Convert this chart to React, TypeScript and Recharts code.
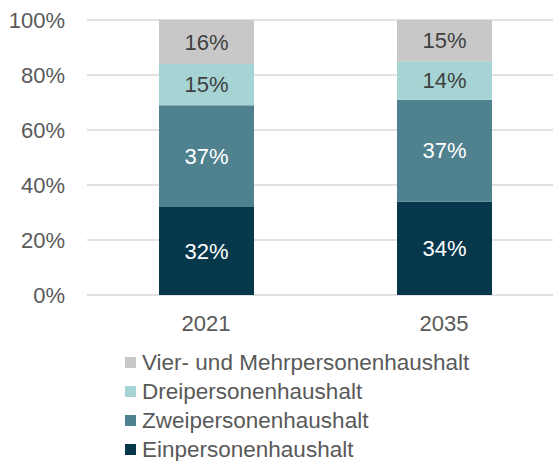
import { BarChart, Bar, XAxis, YAxis, CartesianGrid, LabelList } from 'recharts'

const years = ['2021', '2035']
const einPersonen = [32, 34]
const zweiPersonen = [37, 37]
const dreiPersonen = [15, 14]
const vierUndMehr = [16, 15]
const yTicks = [0, 20, 40, 60, 80, 100]

const FONT = '"Liberation Sans", Arial, sans-serif'

const SERIES = [
  { key: 'ein', name: 'Einpersonenhaushalt', color: '#06374b', label: '#ffffff' },
  { key: 'zwei', name: 'Zweipersonenhaushalt', color: '#50818f', label: '#ffffff' },
  { key: 'drei', name: 'Dreipersonenhaushalt', color: '#a6d4d5', label: '#404040' },
  { key: 'vier', name: 'Vier- und Mehrpersonenhaushalt', color: '#c8c8c8', label: '#404040' },
]

const data = years.map((year, i) => ({
  year,
  ein: einPersonen[i],
  zwei: zweiPersonen[i],
  drei: dreiPersonen[i],
  vier: vierUndMehr[i],
}))

const pct = (v: number) => `${v}%`

export default function App() {
  return (
    <div
      style={{
        position: 'absolute',
        left: 0,
        top: 0,
        width: 553,
        height: 461,
        overflow: 'hidden',
        background: '#fff',
        fontFamily: FONT,
      }}
    >
      <BarChart
        width={580}
        height={340}
        data={data}
        margin={{ top: 20, right: 17, left: 0, bottom: 0 }}
        barSize={95}
      >
        <CartesianGrid vertical={false} stroke="#d9d9d9" strokeWidth={1.5} />
        <XAxis
          dataKey="year"
          height={45}
          axisLine={false}
          tickLine={false}
          tickMargin={14}
          tick={{ fill: '#595959', fontSize: 22, fontFamily: FONT }}
        />
        <YAxis
          width={87}
          domain={[0, 100]}
          ticks={yTicks}
          tickFormatter={pct}
          axisLine={false}
          tickLine={false}
          tickMargin={16}
          tick={{ fill: '#595959', fontSize: 22, fontFamily: FONT }}
        />
        {SERIES.map((s) => (
          <Bar key={s.key} dataKey={s.key} stackId="a" fill={s.color} isAnimationActive={false}>
            <LabelList
              dataKey={s.key}
              position="center"
              formatter={(v: any) => pct(v)}
              fill={s.label}
              style={{ fontSize: 22, fontFamily: FONT }}
            />
          </Bar>
        ))}
      </BarChart>
      <div style={{ position: 'absolute', left: 125, top: 348, color: '#595959', fontSize: 22.5 }}>
        {[...SERIES].reverse().map((s) => (
          <div key={s.key} style={{ display: 'flex', alignItems: 'center', height: 29 }}>
            <span style={{ width: 11, height: 11, background: s.color, marginRight: 6, flexShrink: 0 }} />
            <span style={{ whiteSpace: 'nowrap', lineHeight: '29px' }}>{s.name}</span>
          </div>
        ))}
      </div>
    </div>
  )
}
